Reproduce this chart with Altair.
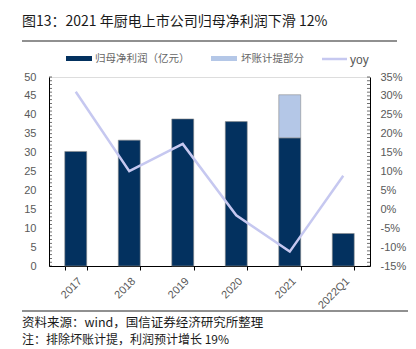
import altair as alt
import pandas as pd

categories = ["2017", "2018", "2019", "2020", "2021", "2022Q1"]
net_profit = [30.3, 33.3, 38.9, 38.2, 33.9, 8.6]
impairment = [0, 0, 0, 0, 11.4, 0]
yoy = [31.1, 10.1, 17.3, -1.6, -11.2, 8.9]
series_names = ["归母净利润（亿元）", "坏账计提部分"]
left_ticks = list(range(0, 51))
right_ticks = list(range(-15, 36))
left_labels = list(range(0, 55, 5))
right_labels = list(range(-15, 40, 5))

title_text = "图13：2021 年厨电上市公司归母净利润下滑 12%"
source_text = "资料来源：wind，国信证券经济研究所整理"
note_text = "注：排除坏账计提，利润预计增长 19%"

DARK = "#03315f"
LIGHT = "#b4c7e7"
LINE = "#c6c8f0"
GRAY = "#595959"
CJK = "Noto Sans CJK SC"
LAT = "Liberation Sans"

W, H = 321, 189

bars_df = pd.DataFrame({
    "cat": categories * 2,
    "series": [series_names[0]] * len(categories) + [series_names[1]] * len(categories),
    "value": net_profit + impairment,
    "ord": [0] * len(categories) + [1] * len(categories),
})
line_df = pd.DataFrame({"cat": categories, "yoy": yoy})
one = pd.DataFrame({"a": [0]})

xenc = alt.X(
    "cat:N", sort=categories, title=None,
    scale=alt.Scale(paddingInner=0.59, paddingOuter=0.295),
    axis=alt.Axis(labelAngle=-45, labelColor=GRAY, labelFont=LAT, labelFontSize=11,
                  tickBand="extent", tickSize=4, tickColor="black", domainColor="black",
                  labelPadding=5, grid=False),
)

bars = alt.Chart(bars_df).transform_filter("datum.value > 0").mark_bar(
    stroke="#8c8c8c", strokeWidth=0.6
).encode(
    x=xenc,
    y=alt.Y("value:Q", stack="zero", title=None,
            scale=alt.Scale(domain=[0, 50], nice=False),
            axis=alt.Axis(values=left_labels, tickSize=0, labelPadding=13,
                          labelColor=GRAY, labelFont=LAT, labelFontSize=11,
                          domainColor="black", grid=False)),
    color=alt.Color("series:N", scale=alt.Scale(domain=series_names, range=[DARK, LIGHT]), legend=None),
    order=alt.Order("ord:Q"),
)

line = alt.Chart(line_df).mark_line(color=LINE, strokeWidth=2.5).encode(
    x=alt.X("cat:N", sort=categories),
    y=alt.Y("yoy:Q", title=None,
            scale=alt.Scale(domain=[-15, 35], nice=False),
            axis=alt.Axis(orient="right", values=right_labels, tickSize=0, labelPadding=10,
                          labelExpr="datum.value + '%'",
                          labelColor=GRAY, labelFont=LAT, labelFontSize=11,
                          domainColor="black", grid=False)),
)

lticks = alt.Chart(pd.DataFrame({"t": left_ticks})).mark_tick(
    orient="horizontal", size=3, thickness=0.8, color="black"
).encode(
    y=alt.Y("t:Q", scale=alt.Scale(domain=[0, 50], nice=False), axis=None),
    x=alt.value(1.5),
)
rticks = alt.Chart(pd.DataFrame({"t": right_ticks})).mark_tick(
    orient="horizontal", size=3, thickness=0.8, color="black"
).encode(
    y=alt.Y("t:Q", scale=alt.Scale(domain=[-15, 35], nice=False), axis=None),
    x=alt.value(W - 1.5),
)

def txt(s, x, y, size, color, font, align="left"):
    return alt.Chart(one).mark_text(
        text=s, align=align, baseline="middle", fontSize=size, color=color, font=font
    ).encode(x=alt.value(x), y=alt.value(y))

def rect(x1, x2, y1, y2, color):
    return alt.Chart(one).mark_rect(color=color).encode(
        x=alt.value(x1), x2=alt.value(x2), y=alt.value(y1), y2=alt.value(y2))

def rule(x1, x2, y, color, w):
    return alt.Chart(one).mark_rule(color=color, strokeWidth=w).encode(
        x=alt.value(x1), x2=alt.value(x2), y=alt.value(y))

deco = [
    txt(title_text, -27, -55, 14, "#1a1a1a", CJK),
    rule(-27, 348, -36, "#222222", 1.2),
    rect(17, 43, -21, -16, DARK),
    txt(series_names[0], 46, -18, 10.5, "#666666", CJK),
    rect(162, 188, -21, -16, LIGHT),
    txt(series_names[1], 192, -18, 10.5, "#666666", CJK),
    rule(273, 298, -18, LINE, 2.5),
    txt("yoy", 301, -17, 12, GRAY, LAT),
    rule(-27, 359, 234, "#222222", 1.2),
    txt(source_text, -27, 246, 12.5, "#1a1a1a", CJK),
    txt(note_text, -27, 263, 12, "#1a1a1a", CJK),
]

chart = alt.layer(bars, line, lticks, rticks, *deco).resolve_scale(
    y="independent"
).properties(
    width=W, height=H,
    padding={"left": 49, "top": 77, "right": 46, "bottom": 83},
    autosize="none",
).configure_view(stroke=None).configure(background="white")

chart.save("out.html", embed_options={"renderer": "svg", "actions": False})
